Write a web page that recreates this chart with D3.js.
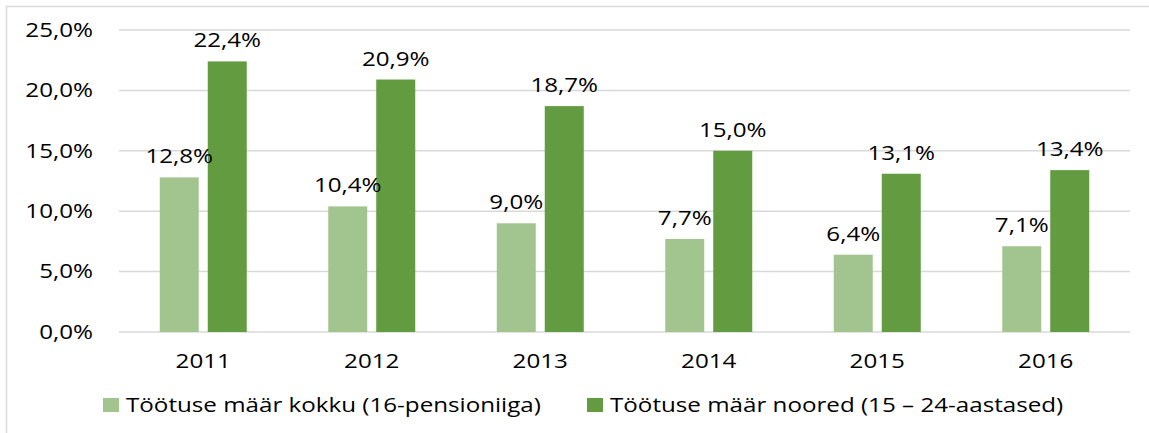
<!DOCTYPE html>
<html>
<head>
  <meta charset="utf-8">
  <script src="https://d3js.org/d3.v7.min.js"></script>
  <style>
    body { margin: 0; background: #fff; }
    text { font-family: "Open Sans", sans-serif; fill: #000; }
  </style>
</head>
<body>
  <script>
    // Chart data
    let years = ["2011", "2012", "2013", "2014", "2015", "2016"];
    let kokku = [12.8, 10.4, 9.0, 7.7, 6.4, 7.1];
    let noored = [22.4, 20.9, 18.7, 15.0, 13.1, 13.4];
    let seriesNames = ["Töötuse määr kokku (16-pensioniiga)", "Töötuse määr noored (15 \u2013 24-aastased)"];
    let yTicks = [0, 5, 10, 15, 20, 25];

    let colors = ["#a2c58f", "#629b40"];
    let fmt = function(v) { return v.toFixed(1).replace(".", ",") + "%"; };

    // the original text is drawn wide, so stretch it horizontally
    let sx = 1.24, fontSize = "19.5px";

    let W = 1149, H = 433;
    let margin = {top: 30, right: 19, bottom: 101, left: 119},
        width = W - margin.left - margin.right,
        height = H - margin.top - margin.bottom;

    let svg = d3.select("body").append("svg")
      .attr("width", W).attr("height", H);

    // outer chart border
    svg.append("rect")
      .attr("x", 6.5).attr("y", 6.5)
      .attr("width", W + 10).attr("height", H + 10)
      .attr("fill", "none").attr("stroke", "#d9d9d9").attr("stroke-width", 1.5);

    let g = svg.append("g").attr("transform", "translate(" + margin.left + "," + margin.top + ")");

    let x = d3.scaleBand().domain(years).range([0, width]);
    let y = d3.scaleLinear().domain([0, 25]).range([height, 0]);

    // gridlines
    g.selectAll("line.grid").data(yTicks).enter().append("line")
      .attr("x1", 0).attr("x2", width)
      .attr("y1", function(d) { return y(d); }).attr("y2", function(d) { return y(d); })
      .attr("stroke", "#d9d9d9").attr("stroke-width", 1.5);

    function stretch(sel) {
      sel.style("font-size", fontSize)
         .style("font-family", "Open Sans, sans-serif")
         .attr("fill", "#000")
         .attr("x", function() { return (+d3.select(this).attr("x") || 0) / sx; })
         .attr("transform", "scale(" + sx + ",1)");
    }

    // y axis labels
    let yAxis = g.append("g")
      .call(d3.axisLeft(y).tickValues(yTicks).tickSize(0).tickPadding(26).tickFormat(fmt));
    yAxis.select(".domain").remove();
    yAxis.selectAll("text").call(stretch);

    // x axis labels
    let xAxis = g.append("g")
      .attr("transform", "translate(0," + height + ")")
      .call(d3.axisBottom(x).tickSize(0).tickPadding(22));
    xAxis.select(".domain").remove();
    xAxis.selectAll("text").call(stretch);

    let barW = 39, gap = 9;
    let sub = d3.scaleBand().domain([0, 1]).range([0, 2 * barW + gap]).paddingInner(gap / (barW + gap));

    let data = [];
    years.forEach(function(yr, i) {
      data.push({year: yr, s: 0, v: kokku[i]});
      data.push({year: yr, s: 1, v: noored[i]});
    });

    let bx = function(d) {
      return x(d.year) + x.bandwidth() / 2 - (2 * barW + gap) / 2 + sub(d.s);
    };

    g.selectAll("rect.bar").data(data).enter().append("rect")
      .attr("class", "bar")
      .attr("x", bx)
      .attr("y", function(d) { return y(d.v); })
      .attr("width", sub.bandwidth())
      .attr("height", function(d) { return height - y(d.v); })
      .attr("fill", function(d) { return colors[d.s]; });

    // value labels
    g.selectAll("g.lbl").data(data).enter().append("g")
      .attr("class", "lbl")
      .attr("transform", function(d) {
        return "translate(" + (bx(d) + sub.bandwidth() / 2) + "," + (y(d.v) - 14) + ")";
      })
      .append("text")
      .attr("text-anchor", "middle")
      .text(function(d) { return fmt(d.v); })
      .call(stretch);

    // legend
    let legendX = [103, 587];
    let leg = svg.selectAll("g.leg").data(seriesNames).enter().append("g")
      .attr("transform", function(d, i) { return "translate(" + legendX[i] + ",398)"; });
    leg.append("rect").attr("width", 16).attr("height", 14)
      .attr("fill", function(d, i) { return colors[i]; });
    leg.append("g").attr("transform", "translate(23,14)")
      .append("text")
      .text(function(d) { return d; })
      .call(stretch);
  </script>
</body>
</html>
